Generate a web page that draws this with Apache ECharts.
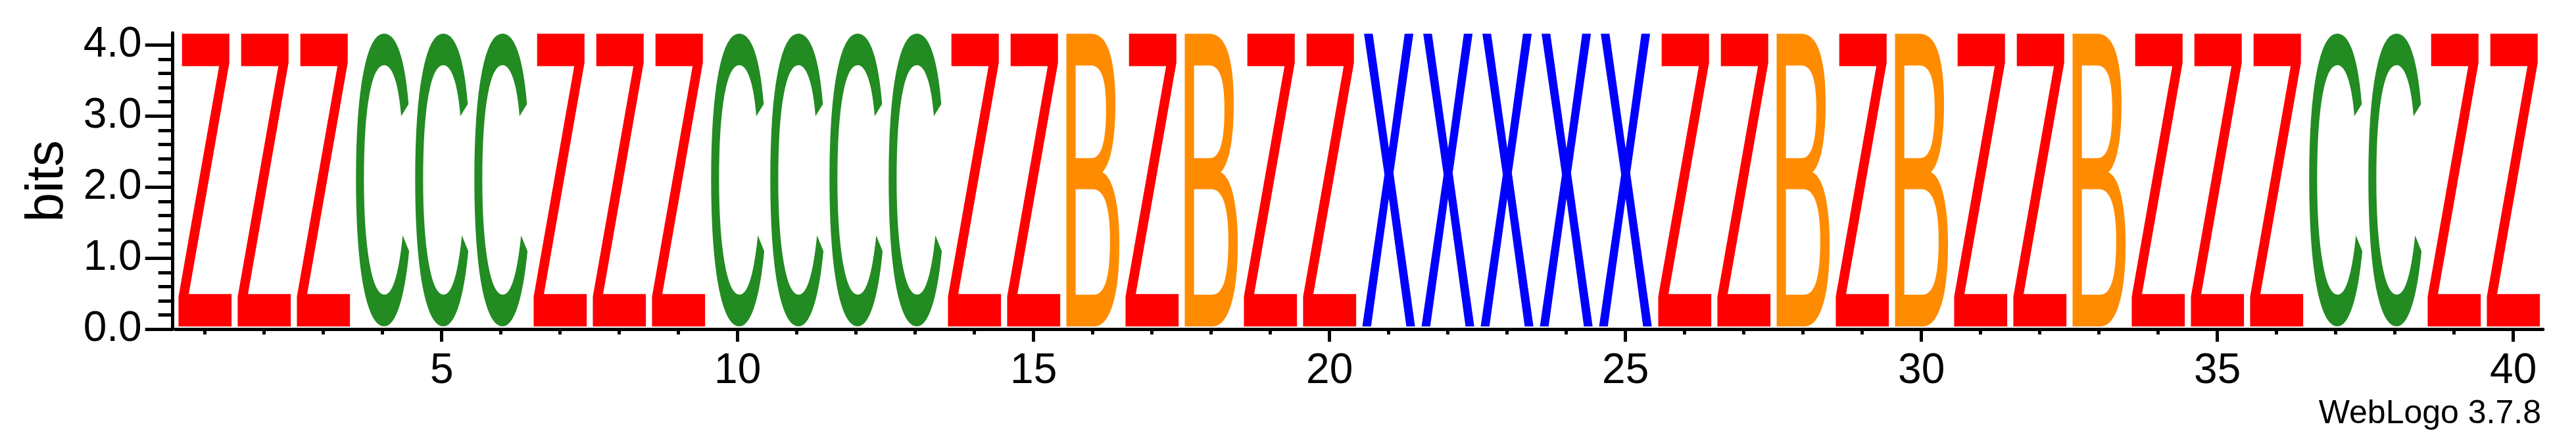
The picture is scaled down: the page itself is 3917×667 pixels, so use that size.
<!DOCTYPE html>
<html><head><meta charset="utf-8">
<script src="https://cdn.jsdelivr.net/npm/echarts@6/dist/echarts.min.js"></script>
<style>html,body{margin:0;padding:0;background:#fff}#c{width:3917px;height:667px}</style>
</head><body><div id="c"></div>
<script>
// ---- data ----
const positions = [1,2,3,4,5,6,7,8,9,10,11,12,13,14,15,16,17,18,19,20,21,22,23,24,25,26,27,28,29,30,31,32,33,34,35,36,37,38,39,40];
const residues = ['Z','Z','Z','C','C','C','Z','Z','Z','C','C','C','C','Z','Z','B','Z','B','Z','Z','X','X','X','X','X','Z','Z','B','Z','B','Z','Z','B','Z','Z','Z','C','C','Z','Z'];
const heights = [4.17,4.17,4.17,4.17,4.17,4.17,4.17,4.17,4.17,4.17,4.17,4.17,4.17,4.17,4.17,4.17,4.17,4.17,4.17,4.17,4.17,4.17,4.17,4.17,4.17,4.17,4.17,4.17,4.17,4.17,4.17,4.17,4.17,4.17,4.17,4.17,4.17,4.17,4.17,4.17];
const yTicks = [0,1,2,3,4];
const yMinorTicks = [0.2,0.4,0.6,0.8,1.2,1.4,1.6,1.8,2.2,2.4,2.6,2.8,3.2,3.4,3.6,3.8];
const xTicks = [5,10,15,20,25,30,35,40];
const xMinorTicks = positions;
const yLabel = 'bits';
const footer = 'WebLogo 3.7.8';

// ---- styles ----
const colorMap = {Z:'#FF0000', C:'#228B22', B:'#FF8C00', X:'#0000FF'};
const FAMILY = '"Liberation Sans", Arial, sans-serif';
const letterFont = '200px ' + FAMILY;

const mctx = document.createElement('canvas').getContext('2d');
mctx.font = letterFont; mctx.textBaseline = 'middle'; mctx.textAlign = 'left';
const metrics = {};
new Set(residues).forEach(ch => {
  const m = mctx.measureText(ch);
  metrics[ch] = {L: m.actualBoundingBoxLeft, R: m.actualBoundingBoxRight, A: m.actualBoundingBoxAscent, D: m.actualBoundingBoxDescent};
});

const gridBox = {left: 266.7, right: 50.3, top: 50, bottom: 166.7};
const chart = echarts.init(document.getElementById('c'), null, {renderer: 'canvas'});
chart.setOption({
  animation: false,
  backgroundColor: '#fff',
  grid: [Object.assign({}, gridBox), Object.assign({}, gridBox)],
  xAxis: [
    {type: 'value', gridIndex: 0, min: 0.5, max: 40.5, position: 'bottom',
     axisLine: {show: true, lineStyle: {color: '#000', width: 5}},
     axisTick: {show: true, customValues: xTicks, length: 19, lineStyle: {color: '#000', width: 5}},
     axisLabel: {show: true, customValues: xTicks, color: '#000', fontSize: 64, fontFamily: FAMILY, margin: 32},
     splitLine: {show: false}},
    {type: 'value', gridIndex: 1, min: 0.5, max: 40.5, position: 'bottom',
     axisLine: {show: false},
     axisTick: {show: true, customValues: xMinorTicks, length: 8, lineStyle: {color: '#000', width: 5}},
     axisLabel: {show: false}, splitLine: {show: false}}
  ],
  yAxis: [
    {type: 'value', gridIndex: 0, min: 0, max: 4.17, position: 'left', offset: 4,
     axisLine: {show: true, lineStyle: {color: '#000', width: 5}},
     axisTick: {show: true, customValues: yTicks, length: 42, lineStyle: {color: '#000', width: 5}},
     axisLabel: {show: true, customValues: yTicks, formatter: v => Number(v).toFixed(1), color: '#000', fontSize: 64, fontFamily: FAMILY, margin: 47},
     splitLine: {show: false},
     name: yLabel, nameLocation: 'middle', nameGap: 150,
     nameTextStyle: {color: '#000', fontSize: 80, fontFamily: FAMILY}},
    {type: 'value', gridIndex: 1, min: 0, max: 4.17, position: 'left', offset: 4,
     axisLine: {show: false},
     axisTick: {show: true, customValues: yMinorTicks, length: 22, lineStyle: {color: '#000', width: 5}},
     axisLabel: {show: false}, splitLine: {show: false}}
  ],
  graphic: [{type: 'text', x: 3864, y: 629, silent: true,
    style: {text: footer, font: '50px ' + FAMILY, fill: '#000', align: 'right', verticalAlign: 'middle'}}],
  series: [{
    type: 'custom', xAxisIndex: 0, yAxisIndex: 0, silent: true, clip: false,
    data: positions.map((p, i) => [p, heights[i]]),
    renderItem: function (params, api) {
      const pos = api.value(0), h = api.value(1);
      const ch = residues[params.dataIndex];
      const tl = api.coord([pos - 0.45, h]);
      const br = api.coord([pos + 0.45, 0]);
      const x0 = tl[0], y0 = tl[1], x1 = br[0], y1 = br[1] - 4.3;
      const m = metrics[ch];
      const sx = (x1 - x0) / (m.L + m.R), sy = (y1 - y0) / (m.A + m.D);
      return {type: 'text', x: x0 + sx * m.L, y: y0 + sy * m.A, scaleX: sx, scaleY: sy,
        style: {text: ch, font: letterFont, fill: colorMap[ch], align: 'left', verticalAlign: 'middle'}};
    }
  }]
});
</script></body></html>
